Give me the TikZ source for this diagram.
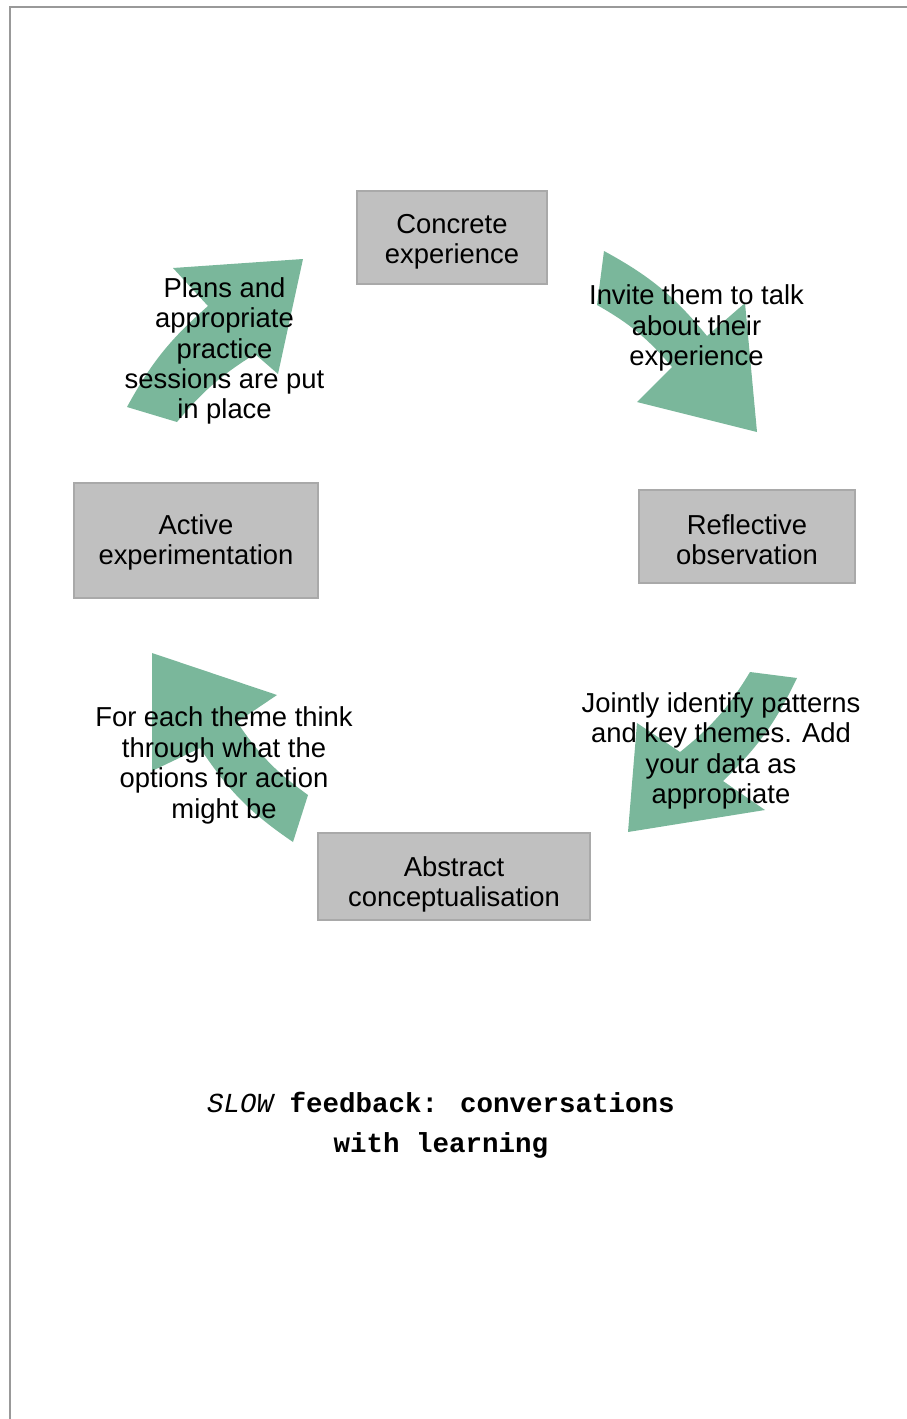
\documentclass[tikz,border=0pt]{standalone}
\usepackage{fontspec}
\setmainfont{Liberation Sans}
\newfontfamily\typefont{Liberation Mono}
\definecolor{boxfill}{HTML}{C0C0C0}
\definecolor{boxline}{HTML}{A9A9A9}
\definecolor{cyclegreen}{HTML}{7AB79B}
\definecolor{frameline}{HTML}{999999}
\tikzset{
  stage/.style={draw=boxline, fill=boxfill, line width=1.5pt, inner sep=0pt},
  note/.style={align=center, inner sep=0pt, font=\fontsize{27.4}{30.4}\selectfont},
  bigarrow/.style={fill=cyclegreen, draw=none},
  caption/.style={align=center, inner sep=0pt,
    font=\typefont\bfseries\fontsize{27.5}{40}\selectfont}
}
\begin{document}
\begin{tikzpicture}[x=1pt,y=-1pt]
\useasboundingbox (0,0) rectangle (907,1419);
% page frame
\draw[frameline, line width=2pt] (10,1419) -- (10,7) -- (907,7);

% four block arrows running clockwise round the cycle
% top-left: Active -> Concrete
\fill[bigarrow] (127,407) to[bend left=10] (208,306) -- (173,268) -- (303,259)
  -- (278,374) -- (255,354) to[bend right=9] (177,422) -- cycle;
% top-right: Concrete -> Reflective
\fill[bigarrow] (604,251) to[bend left=11] (707,336) -- (745,303) -- (757,432)
  -- (637,402) -- (672,367) to[bend right=10] (597,305) -- cycle;
% bottom-right: Reflective -> Abstract
\fill[bigarrow] (797,678) to[bend left=10] (723,781) -- (765,810) -- (628,832)
  -- (637,723) -- (680,752) to[bend right=10] (750,672) -- cycle;
% bottom-left: Abstract -> Active
\fill[bigarrow] (293,842) to[bend left=11] (200,748) -- (152,771) -- (152,653)
  -- (277,695) -- (237,722) to[bend right=10] (308,795) -- cycle;

% the four stages: boxes, then their labels
\node[stage, minimum width=190pt, minimum height=93pt] (concrete) at (452,237.5) {};
\node[stage, minimum width=216pt, minimum height=93pt] (reflective) at (747,536.5) {};
\node[stage, minimum width=272pt, minimum height=87pt] (abstract) at (454,876.5) {};
\node[stage, minimum width=244pt, minimum height=115pt] (active) at (196,540.5) {};
\node[note] (concrete-text) at (452,241.5) {Concrete\\experience};
\node[note] (reflective-text) at (747,539.5) {Reflective\\observation};
\node[note] (abstract-text) at (454,884.5) {Abstract\\conceptualisation};
\node[note] (active-text) at (196,542.5) {Active\\experimentation};

% arrow captions
\node[note] (plans) at (224.5,351) {Plans and\\appropriate\\practice\\sessions are put\\in place};
\node[note] (invite) at (696.5,328) {Invite them to talk\\about their\\experience};
\node[note] (jointly) at (721,751) {Jointly identify patterns\\and key themes. Add\\your data as\\appropriate};
\node[note] (foreach) at (224,765.5) {For each theme think\\through what the\\options for action\\might be};

% title
\node[caption] (title) at (441,1125)
  {{\mdseries\itshape SLOW} feedback: conversations\\with learning};
\end{tikzpicture}
\end{document}
